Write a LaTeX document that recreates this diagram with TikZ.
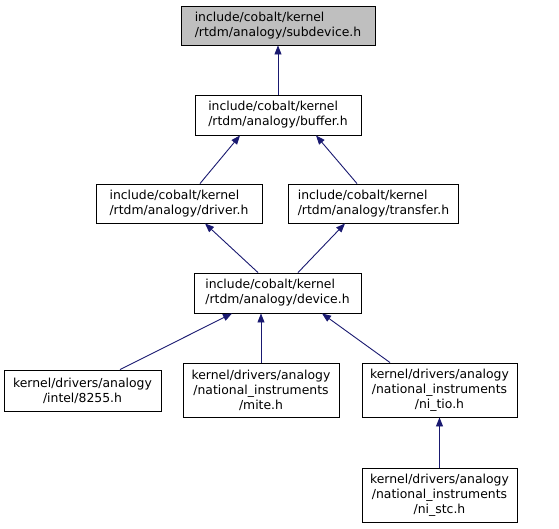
\documentclass[tikz,border=0pt]{standalone}
\usepackage{fontspec}
\setmainfont{DejaVu Sans}
\usetikzlibrary{arrows.meta}
\definecolor{edgecol}{HTML}{191970}
\definecolor{rootfill}{HTML}{BFBFBF}
\begin{document}
\begin{tikzpicture}[x=1pt,y=-1pt,
  box/.style={draw=black,line width=0.9pt,fill=white,inner sep=0pt,font=\fontsize{12.4}{15}\selectfont},
  lbox/.style={box,align=left},
  cbox/.style={box,align=center},
  edge/.style={draw=edgecol,line width=0.9pt,-{Triangle[length=9pt,width=7pt]}}]
\useasboundingbox (0,0) rectangle (559,528);
\node[lbox,fill=rootfill,minimum width=194pt,minimum height=39pt] (sub) at (278,25.5) {include/cobalt/kernel\\/rtdm/analogy/subdevice.h};
\node[lbox,minimum width=166pt,minimum height=40pt] (buf) at (278,115) {include/cobalt/kernel\\/rtdm/analogy/buffer.h};
\node[lbox,minimum width=166pt,minimum height=39pt] (drv) at (179,203.5) {include/cobalt/kernel\\/rtdm/analogy/driver.h};
\node[lbox,minimum width=170pt,minimum height=39pt] (trf) at (373.5,203.5) {include/cobalt/kernel\\/rtdm/analogy/transfer.h};
\node[lbox,minimum width=167pt,minimum height=40pt] (dev) at (277.5,293) {include/cobalt/kernel\\/rtdm/analogy/device.h};
\node[cbox,minimum width=157pt,minimum height=41pt] (i8255) at (82.5,390.5) {kernel/drivers/analogy\\/intel/8255.h};
\node[cbox,minimum width=156pt,minimum height=54pt] (mite) at (261,390) {kernel/drivers/analogy\\/national\_instruments\\/mite.h};
\node[cbox,minimum width=155pt,minimum height=54pt] (tio) at (439.5,390) {kernel/drivers/analogy\\/national\_instruments\\/ni\_tio.h};
\node[cbox,minimum width=155pt,minimum height=54pt] (stc) at (439.5,495) {kernel/drivers/analogy\\/national\_instruments\\/ni\_stc.h};
\draw[edge] (buf.north) -- (sub.south);
\draw[edge] ([xshift=21pt]drv.north) -- ([xshift=-38pt]buf.south);
\draw[edge] ([xshift=-16.5pt]trf.north) -- ([xshift=38pt]buf.south);
\draw[edge] ([xshift=-19.5pt]dev.north) -- ([xshift=26pt]drv.south);
\draw[edge] ([xshift=20.5pt]dev.north) -- ([xshift=-28.5pt]trf.south);
\draw[edge] ([xshift=37.5pt]i8255.north) -- ([xshift=-45.5pt]dev.south);
\draw[edge] (mite.north) -- ([xshift=-16.5pt]dev.south);
\draw[edge] ([xshift=-49.5pt]tio.north) -- ([xshift=44.5pt]dev.south);
\draw[edge] (stc.north) -- (tio.south);
\end{tikzpicture}
\end{document}
